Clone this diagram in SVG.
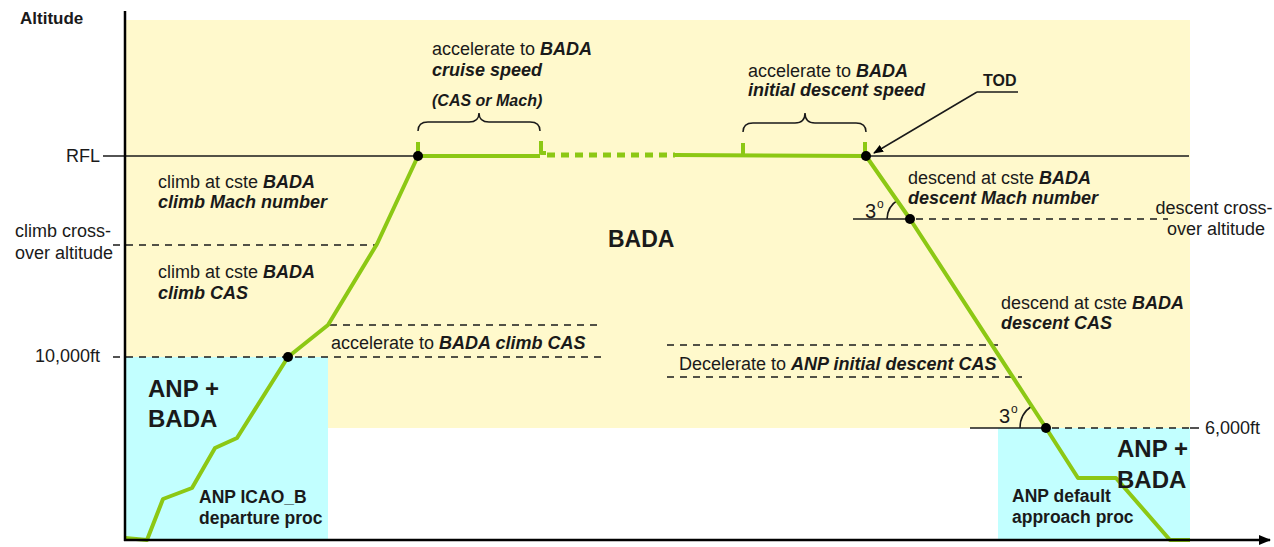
<svg xmlns="http://www.w3.org/2000/svg" width="1274" height="547" viewBox="0 0 1274 547">
<defs>
<marker id="ah" markerWidth="10" markerHeight="8" refX="9" refY="4" orient="auto" markerUnits="userSpaceOnUse"><path d="M0,0 L10,4 L0,8 Z" fill="#000"/></marker>
<marker id="axh" markerWidth="12" markerHeight="10" refX="11" refY="5" orient="auto" markerUnits="userSpaceOnUse"><path d="M0,0 L12,5 L0,10 Z" fill="#000"/></marker>
<style>
text{font-family:"Liberation Sans",Arial,sans-serif;font-size:18px;fill:#1a1a1a}
.b{font-weight:bold}
.bi{font-weight:bold;font-style:italic}
.big{font-size:24px;font-weight:bold}
.small{font-size:17.5px;font-weight:bold}
.dash{stroke:#1a1a1a;stroke-width:1.5;stroke-dasharray:7,6;fill:none}
.thin{stroke:#1a1a1a;stroke-width:1.5;fill:none}
.g{stroke:#8CC814;stroke-width:4;fill:none;stroke-linejoin:round}
.dot{fill:#000}
</style>
</defs>
<g id="background">
<rect x="125" y="20" width="1065" height="408" fill="#FFF9CC"/>
<rect x="125" y="357" width="203" height="183" fill="#C2FFFF"/>
<rect x="998" y="428" width="192" height="112" fill="#C2FFFF"/>
</g>
<g id="connectors">
<line class="thin" x1="103" y1="156" x2="418" y2="156"/>
<line class="thin" x1="866" y1="156" x2="1189" y2="156"/>
<line class="dash" x1="113" y1="245" x2="378" y2="245"/>
<line class="dash" x1="113" y1="357" x2="603" y2="357"/>
<line class="dash" x1="330" y1="325" x2="603" y2="325"/>
<line class="dash" x1="667" y1="345" x2="998" y2="345"/>
<line class="dash" x1="667" y1="377" x2="1022" y2="377"/>
<line class="thin" x1="853" y1="219" x2="910" y2="219"/>
<line class="dash" x1="916" y1="219" x2="1168" y2="219"/>
<line class="thin" x1="970" y1="428" x2="1046" y2="428"/>
<line class="dash" x1="1052" y1="428" x2="1190" y2="428"/>
<line class="thin" x1="1190" y1="428" x2="1199" y2="428"/>
<path class="thin" d="M887,219 A23,23 0 0 1 898,200"/>
<path class="thin" d="M1020,428 A26,26 0 0 1 1032,406"/>
<path class="thin" d="M418,131 Q418,122 428,122 L469,122 Q479,122 479,113 Q479,122 489,122 L530,122 Q540,122 540,131"/>
<path class="thin" d="M743,132 Q743,123 753,123 L795,123 Q805,123 805,113 Q805,123 815,123 L856,123 Q866,123 866,132"/>
<line class="thin" x1="1018" y1="92" x2="977" y2="92"/>
<line class="thin" x1="977" y1="92" x2="874" y2="153" marker-end="url(#ah)"/>
<path class="g" d="M125,538 L147,540 L163,499 L192,488 L215,448 L237,438 L288,357 L328,325 L377,244 L418,156 L540,156"/>
<line x1="547" y1="155" x2="675" y2="155" stroke="#8CC814" stroke-width="5" stroke-dasharray="8,6"/>
<path class="g" d="M675,155 L866,156 L910,219 L1046,428 L1078,478 L1116,478 L1170,540 L1190,540"/>
<line class="g" x1="418" y1="142" x2="418" y2="156" stroke-width="3"/>
<path class="g" d="M541,141 L541,153 L546,153" stroke-width="3"/>
<line class="g" x1="743" y1="143" x2="743" y2="155" stroke-width="3"/>
<line class="g" x1="865" y1="142" x2="865" y2="156" stroke-width="3"/>
<line stroke="#000" stroke-width="2.5" x1="125" y1="11" x2="125" y2="541"/>
<line stroke="#000" stroke-width="2.5" x1="124" y1="540" x2="1270" y2="540" marker-end="url(#axh)"/>
<circle class="dot" cx="418" cy="156" r="5"/>
<circle class="dot" cx="288" cy="357" r="5"/>
<circle class="dot" cx="866" cy="156" r="5"/>
<circle class="dot" cx="910" cy="219" r="5"/>
<circle class="dot" cx="1046" cy="428" r="5"/>
</g>
<g id="axis-labels">
<text class="b" x="20" y="24" style="font-size:17px">Altitude</text>
<text x="100" y="162" text-anchor="end">RFL</text>
<text x="15" y="237">climb cross-</text>
<text x="15" y="259">over altitude</text>
<text x="100" y="362" text-anchor="end">10,000ft</text>
<text x="1205" y="434">6,000ft</text>
</g>
<g id="climb-mach">
<text x="158" y="188">climb at cste <tspan class="bi">BADA</tspan></text>
<text class="bi" x="158" y="208">climb Mach number</text>
</g>
<g id="climb-cas">
<text x="158" y="278">climb at cste <tspan class="bi">BADA</tspan></text>
<text class="bi" x="158" y="299">climb CAS</text>
</g>
<g id="accel-climb">
<text x="331" y="349">accelerate to <tspan class="bi">BADA climb CAS</tspan></text>
</g>
<g id="bada">
<text x="608" y="247" style="font-size:23px;font-weight:bold">BADA</text>
</g>
<g id="accel-cruise">
<text x="432" y="55">accelerate to <tspan class="bi">BADA</tspan></text>
<text class="bi" x="432" y="76">cruise speed</text>
<text class="bi" x="432" y="106" style="font-size:16px">(CAS or Mach)</text>
</g>
<g id="accel-descent">
<text x="748" y="77">accelerate to <tspan class="bi">BADA</tspan></text>
<text class="bi" x="748" y="96">initial descent speed</text>
</g>
<g id="tod">
<text class="b" x="983" y="86" style="font-size:16px">TOD</text>
</g>
<g id="descent-mach">
<text x="908" y="184">descend at cste <tspan class="bi">BADA</tspan></text>
<text class="bi" x="908" y="204">descent Mach number</text>
</g>
<g id="descent-crossover">
<text x="1214" y="214" text-anchor="middle">descent cross-</text>
<text x="1216" y="235" text-anchor="middle">over altitude</text>
</g>
<g id="angle-upper">
<text x="865" y="218" style="font-size:20px">3</text>
<text x="877" y="208" style="font-size:12px">o</text>
</g>
<g id="descent-cas">
<text x="1001" y="309">descend at cste <tspan class="bi">BADA</tspan></text>
<text class="bi" x="1001" y="329">descent CAS</text>
</g>
<g id="decel">
<text x="679" y="370">Decelerate to <tspan class="bi">ANP initial descent CAS</tspan></text>
</g>
<g id="angle-lower">
<text x="999" y="423" style="font-size:20px">3</text>
<text x="1011" y="413" style="font-size:12px">o</text>
</g>
<g id="anp-left">
<text class="big" x="148" y="397">ANP +</text>
<text class="big" x="148" y="427">BADA</text>
<text class="small" x="199" y="503">ANP ICAO_B</text>
<text class="small" x="199" y="524">departure proc</text>
</g>
<g id="anp-right">
<text class="big" x="1117" y="457">ANP +</text>
<text class="big" x="1117" y="488">BADA</text>
<text class="small" x="1012" y="502">ANP default</text>
<text class="small" x="1012" y="523">approach proc</text>
</g>
</svg>
